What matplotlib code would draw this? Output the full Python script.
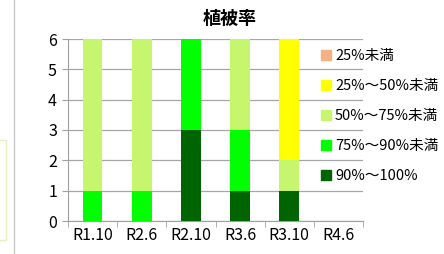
import matplotlib.pyplot as plt
from matplotlib.patches import Rectangle
from matplotlib.lines import Line2D

plt.rcParams['font.family'] = ['Noto Sans CJK JP', 'DejaVu Sans']

categories = ['R1.10', 'R2.6', 'R2.10', 'R3.6', 'R3.10', 'R4.6']
series_names = ['90%～100%', '75%～90%未満', '50%～75%未満', '25%～50%未満', '25%未満']
series_colors = ['#006400', '#00ff00', '#c6f56e', '#ffff00', '#f4b183']
v_90_100 = [0, 0, 3, 1, 1, 0]
v_75_90 = [1, 1, 3, 2, 0, 0]
v_50_75 = [5, 5, 0, 3, 1, 0]
v_25_50 = [0, 0, 0, 0, 4, 0]
v_lt25 = [0, 0, 0, 0, 0, 0]
values = [v_90_100, v_75_90, v_50_75, v_25_50, v_lt25]

fig = plt.figure(figsize=(4.44, 2.54), dpi=100)
ax = fig.add_axes([68 / 444, 33 / 254, 295 / 444, 182 / 254])

x = list(range(len(categories)))
bottom = [0] * len(categories)
handles = []
for name, col, vals in zip(series_names, series_colors, values):
    ax.bar(x, vals, width=0.4, bottom=bottom, color=col, zorder=3)
    bottom = [b + v for b, v in zip(bottom, vals)]
    handles.append(Line2D([], [], marker='s', linestyle='none', markersize=6.5,
                          markerfacecolor=col, markeredgecolor=col, label=name))

ax.set_xlim(-0.5, len(categories) - 0.5)
ax.set_ylim(0, 6)
ax.set_yticks(range(7))
ax.set_xticks(x)
ax.set_xticklabels(categories)
ax.set_xticks([i + 0.5 for i in range(-1, len(categories))], minor=True)
ax.tick_params(axis='x', which='major', length=0, labelsize=11.5, pad=4)
ax.tick_params(axis='x', which='minor', length=4, color='#a0a0a0')
ax.tick_params(axis='y', length=4, color='#a0a0a0', labelsize=11.5, pad=4)
ax.yaxis.grid(True, color='#a6a6a6', linewidth=0.9, zorder=0)
for s in ['top', 'right']:
    ax.spines[s].set_visible(False)
for s in ['left', 'bottom']:
    ax.spines[s].set_color('#a0a0a0')

fig.text(230 / 444, 1 - 18 / 254, '植被率', ha='center', va='center',
         fontsize=13, fontweight='bold')

fig.legend(handles=handles[::-1], loc='upper left',
           bbox_to_anchor=(322 / 444, 1 - 49 / 254), frameon=False,
           fontsize=10.5, handlelength=0.6, handletextpad=0.3,
           labelspacing=1.1, borderaxespad=0, borderpad=0)

# screenshot edges on the left
fig.add_artist(Line2D([14 / 444, 14 / 444], [0, 1], color='#c8c8c8', linewidth=1))
fig.add_artist(Rectangle((-0.01, 1 - 240 / 254), 10 / 444, 100 / 254,
                         facecolor='none', edgecolor='#e4f0c0', linewidth=1))

fig.savefig('out.png', dpi=100)
